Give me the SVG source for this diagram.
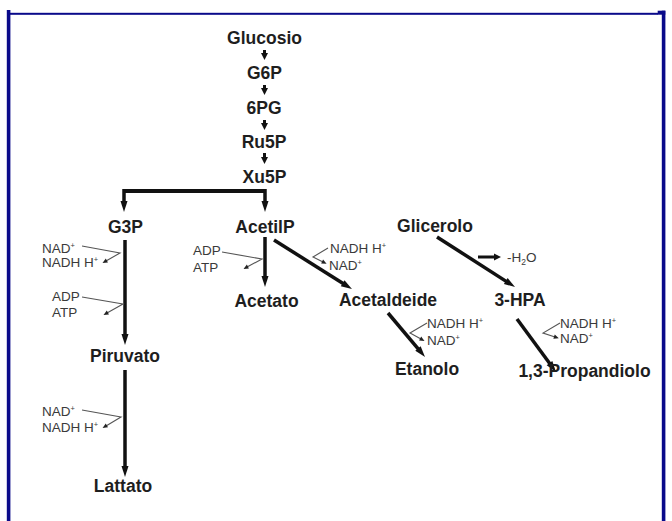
<svg xmlns="http://www.w3.org/2000/svg" width="672" height="521" viewBox="0 0 672 521">
<style>
.lbl{font-family:"Liberation Sans",Arial,sans-serif;font-weight:bold;font-size:17.5px;fill:#1e1e1e;text-anchor:middle}
.co{font-family:"Liberation Sans",Arial,sans-serif;font-size:13.5px;fill:#3a3a3a}
.sup{font-size:7.5px}
.big{stroke:#111;stroke-width:3.5;fill:none;marker-end:url(#ah)}
.sm{stroke:#111;stroke-width:3;fill:none;marker-end:url(#ahs)}
.thin{stroke:#555;stroke-width:1.1;fill:none;marker-end:url(#aht)}
.frame{fill:#0a0a8a}
</style>
<defs>
<marker id="ah" markerUnits="userSpaceOnUse" markerWidth="12" markerHeight="8" refX="1" refY="3.5" orient="auto" overflow="visible">
<path d="M0,0 L11,3.5 L0,7 z" fill="#111"/>
</marker>
<marker id="ahs" markerUnits="userSpaceOnUse" markerWidth="8" markerHeight="7" refX="1" refY="3.5" orient="auto" overflow="visible">
<path d="M0,0 L7,3.5 L0,7 z" fill="#111"/>
</marker>
<marker id="aht" markerUnits="userSpaceOnUse" markerWidth="6" markerHeight="5" refX="1" refY="2.2" orient="auto" overflow="visible">
<path d="M0,0 L5,2.2 L0,4.4 z" fill="#222"/>
</marker>
</defs>

<g id="frame">
<rect class="frame" x="6.8" y="10" width="3.6" height="511"/>
<rect class="frame" x="7" y="12.8" width="651" height="2"/>
<rect class="frame" x="657.7" y="10.7" width="7.6" height="4"/>
<rect class="frame" x="661.8" y="10.7" width="3.6" height="510.3"/>
</g>

<g id="connectors">
<path class="sm" d="M264.5,50 L264.5,54"/>
<path class="sm" d="M264.5,85 L264.5,89"/>
<path class="sm" d="M264.5,120 L264.5,124"/>
<path class="sm" d="M264.5,153 L264.5,158"/>
<path d="M265,191 L124,191" stroke="#111" stroke-width="4" fill="none"/>
<path class="big" d="M124,189 L124,202"/>
<path class="big" d="M265,189 L265,202"/>
<path class="big" d="M125,240 L125,335"/>
<path class="big" d="M125,370 L125,467"/>
<path class="big" d="M265,237 L265,277"/>
<path class="big" d="M274,240 L343.5,283.7"/>
<path class="big" d="M437,237 L506.6,281.6"/>
<path class="big" d="M388,313 L418.6,349.3"/>
<path class="big" d="M517,319 L550.1,364"/>
<path class="sm" d="M478,257 L495,257"/>
<path class="thin" d="M82,246 L120,253 L106,261"/>
<path class="thin" d="M82,297 L123,304 L107,313"/>
<path class="thin" d="M82,410 L121,417 L106,426"/>
<path class="thin" d="M222,252 L262,259 L247,267"/>
<path class="thin" d="M328,248 L313,257 L323,262"/>
<path class="thin" d="M427,323 L410,333 L421,339"/>
<path class="thin" d="M560,323 L543,333 L555,337"/>
</g>

<g id="n-glucosio"><text class="lbl" x="264.5" y="44">Glucosio</text></g>
<g id="n-g6p"><text class="lbl" x="264.5" y="79">G6P</text></g>
<g id="n-6pg"><text class="lbl" x="264" y="114">6PG</text></g>
<g id="n-ru5p"><text class="lbl" x="264" y="148">Ru5P</text></g>
<g id="n-xu5p"><text class="lbl" x="264.5" y="183">Xu5P</text></g>
<g id="n-g3p"><text class="lbl" x="125.5" y="233">G3P</text></g>
<g id="n-acetilp"><text class="lbl" x="265" y="233">AcetilP</text></g>
<g id="n-acetato"><text class="lbl" x="266.5" y="307">Acetato</text></g>
<g id="n-acetaldeide"><text class="lbl" x="388" y="306">Acetaldeide</text></g>
<g id="n-etanolo"><text class="lbl" x="427" y="375">Etanolo</text></g>
<g id="n-glicerolo"><text class="lbl" x="435" y="232">Glicerolo</text></g>
<g id="n-3hpa"><text class="lbl" x="520" y="306">3-HPA</text></g>
<g id="n-propandiolo"><text class="lbl" x="584.5" y="377">1,3-Propandiolo</text></g>
<g id="n-piruvato"><text class="lbl" x="125" y="362">Piruvato</text></g>
<g id="n-lattato"><text class="lbl" x="123" y="492">Lattato</text></g>

<g id="cofactors">
<text class="co" x="42" y="253">NAD<tspan class="sup" dy="-5">+</tspan></text>
<text class="co" x="42" y="267">NADH H<tspan class="sup" dy="-5">+</tspan></text>
<text class="co" x="52" y="301">ADP</text>
<text class="co" x="52" y="316.5">ATP</text>
<text class="co" x="42" y="416">NAD<tspan class="sup" dy="-5">+</tspan></text>
<text class="co" x="42" y="432">NADH H<tspan class="sup" dy="-5">+</tspan></text>
<text class="co" x="193" y="255">ADP</text>
<text class="co" x="193" y="272">ATP</text>
<text class="co" x="330" y="253">NADH H<tspan class="sup" dy="-5">+</tspan></text>
<text class="co" x="329" y="270">NAD<tspan class="sup" dy="-5">+</tspan></text>
<text class="co" x="427" y="328">NADH H<tspan class="sup" dy="-5">+</tspan></text>
<text class="co" x="427" y="345">NAD<tspan class="sup" dy="-5">+</tspan></text>
<text class="co" x="560" y="328">NADH H<tspan class="sup" dy="-5">+</tspan></text>
<text class="co" x="560" y="343">NAD<tspan class="sup" dy="-5">+</tspan></text>
<text class="co" x="507" y="262">-H<tspan font-size="8.5" dy="3">2</tspan><tspan dy="-3">O</tspan></text>
</g>
</svg>
